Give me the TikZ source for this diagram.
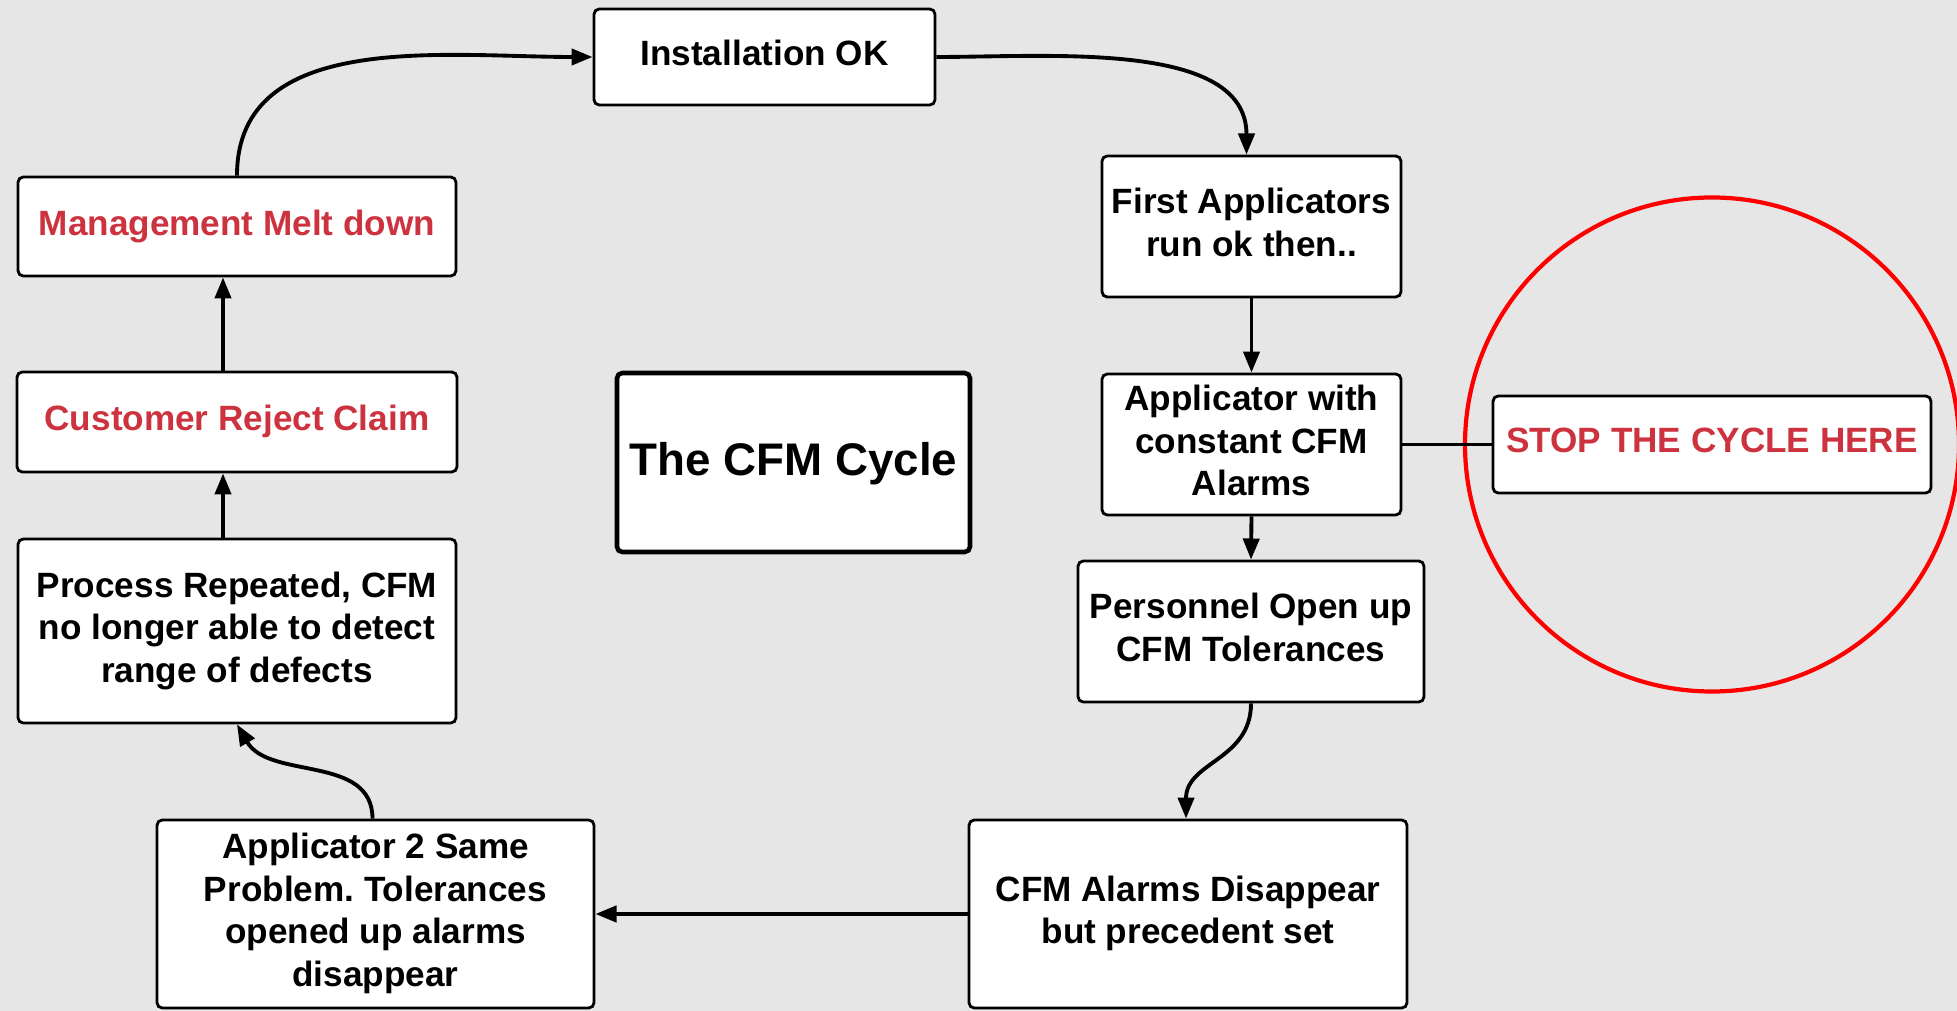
\documentclass[tikz,border=0pt]{standalone}
\usepackage{fontspec}
\setmainfont{Liberation Sans}
\usepackage{tikz}
\usetikzlibrary{arrows.meta, positioning}

\definecolor{bggray}{RGB}{230,230,230}
\definecolor{alertred}{RGB}{204,51,63}

\begin{document}
\frenchspacing
\begin{tikzpicture}[
    box/.style={draw=black, line width=0.8pt, rounded corners=1.5pt, fill=white, align=center, font=\fontsize{10}{12.1}\selectfont\bfseries, inner sep=2pt, text depth=2.3pt},
    arr/.style={-{Triangle[length=6pt, width=4.6pt]}, line width=1.1pt}
]
    % Sfondo
    \fill[bggray] (0,0) rectangle (19.57,-10.11);
    \useasboundingbox (0,0) rectangle (19.57,-10.11);

    % Ciclo, lato destro
    \node[box, minimum width=3.41cm, minimum height=0.96cm] (inst) at (7.645,-0.57) {Installation OK};
    \node[box, minimum width=2.99cm, minimum height=1.41cm] (first) at (12.515,-2.265) {First Applicators\\run ok then..};
    \node[box, minimum width=2.99cm, minimum height=1.41cm] (appw) at (12.515,-4.445) {Applicator with\\constant CFM\\Alarms};
    \node[box, minimum width=3.46cm, minimum height=1.41cm] (pers) at (12.51,-6.315) {Personnel Open up\\CFM Tolerances};
    \node[box, minimum width=4.38cm, minimum height=1.88cm] (alarms) at (11.88,-9.14) {CFM Alarms Disappear\\but precedent set};

    % Ciclo, lato sinistro
    \node[box, minimum width=4.37cm, minimum height=1.88cm] (app2) at (3.755,-9.14) {Applicator 2 Same\\Problem. Tolerances\\opened up alarms\\disappear};
    \node[box, minimum width=4.38cm, minimum height=1.84cm] (proc) at (2.37,-6.31) {Process Repeated, CFM\\no longer able to detect\\range of defects};
    \node[box, minimum width=4.40cm, minimum height=1.00cm, text=alertred] (cust) at (2.37,-4.22) {Customer Reject Claim};
    \node[box, minimum width=4.38cm, minimum height=0.99cm, text=alertred] (mgmt) at (2.37,-2.265) {Management Melt down};

    % Titolo
    \node[box, line width=1.3pt, minimum width=3.53cm, minimum height=1.79cm, font=\fontsize{13}{15}\selectfont\bfseries] (title) at (7.935,-4.625) {The CFM Cycle};

    % Stop
    \node[box, minimum width=4.38cm, minimum height=0.97cm, text=alertred] (stop) at (17.12,-4.445) {STOP THE CYCLE HERE};
    \node[circle, draw=red, line width=1.2pt, minimum size=4.94cm, inner sep=0pt] (ring) at (stop) {};
    \draw[line width=0.6pt] (appw.east) -- (stop.west);

    % Frecce
    \draw[arr] (mgmt.north) to[out=90, in=180] (inst.west);
    \draw[arr] (inst.east) to[out=0, in=90, looseness=0.9] ([xshift=-0.5mm]first.north);
    \draw[arr] (first.south) -- (appw.north);
    \draw[arr] (appw.south) -- (pers.north);
    \draw[arr] (pers.south) to[out=-90, in=90, looseness=1.1] ([xshift=-0.2mm]alarms.north);
    \draw[arr] (alarms.west) -- (app2.east);
    \draw[arr] ([xshift=-0.3mm]app2.north) to[out=90, in=-60] (proc.south);
    \draw[arr] ([xshift=-1.4mm]proc.north) -- ([xshift=-1.4mm]cust.south);
    \draw[arr] ([xshift=-1.4mm]cust.north) -- ([xshift=-1.4mm]mgmt.south);
\end{tikzpicture}
\end{document}
